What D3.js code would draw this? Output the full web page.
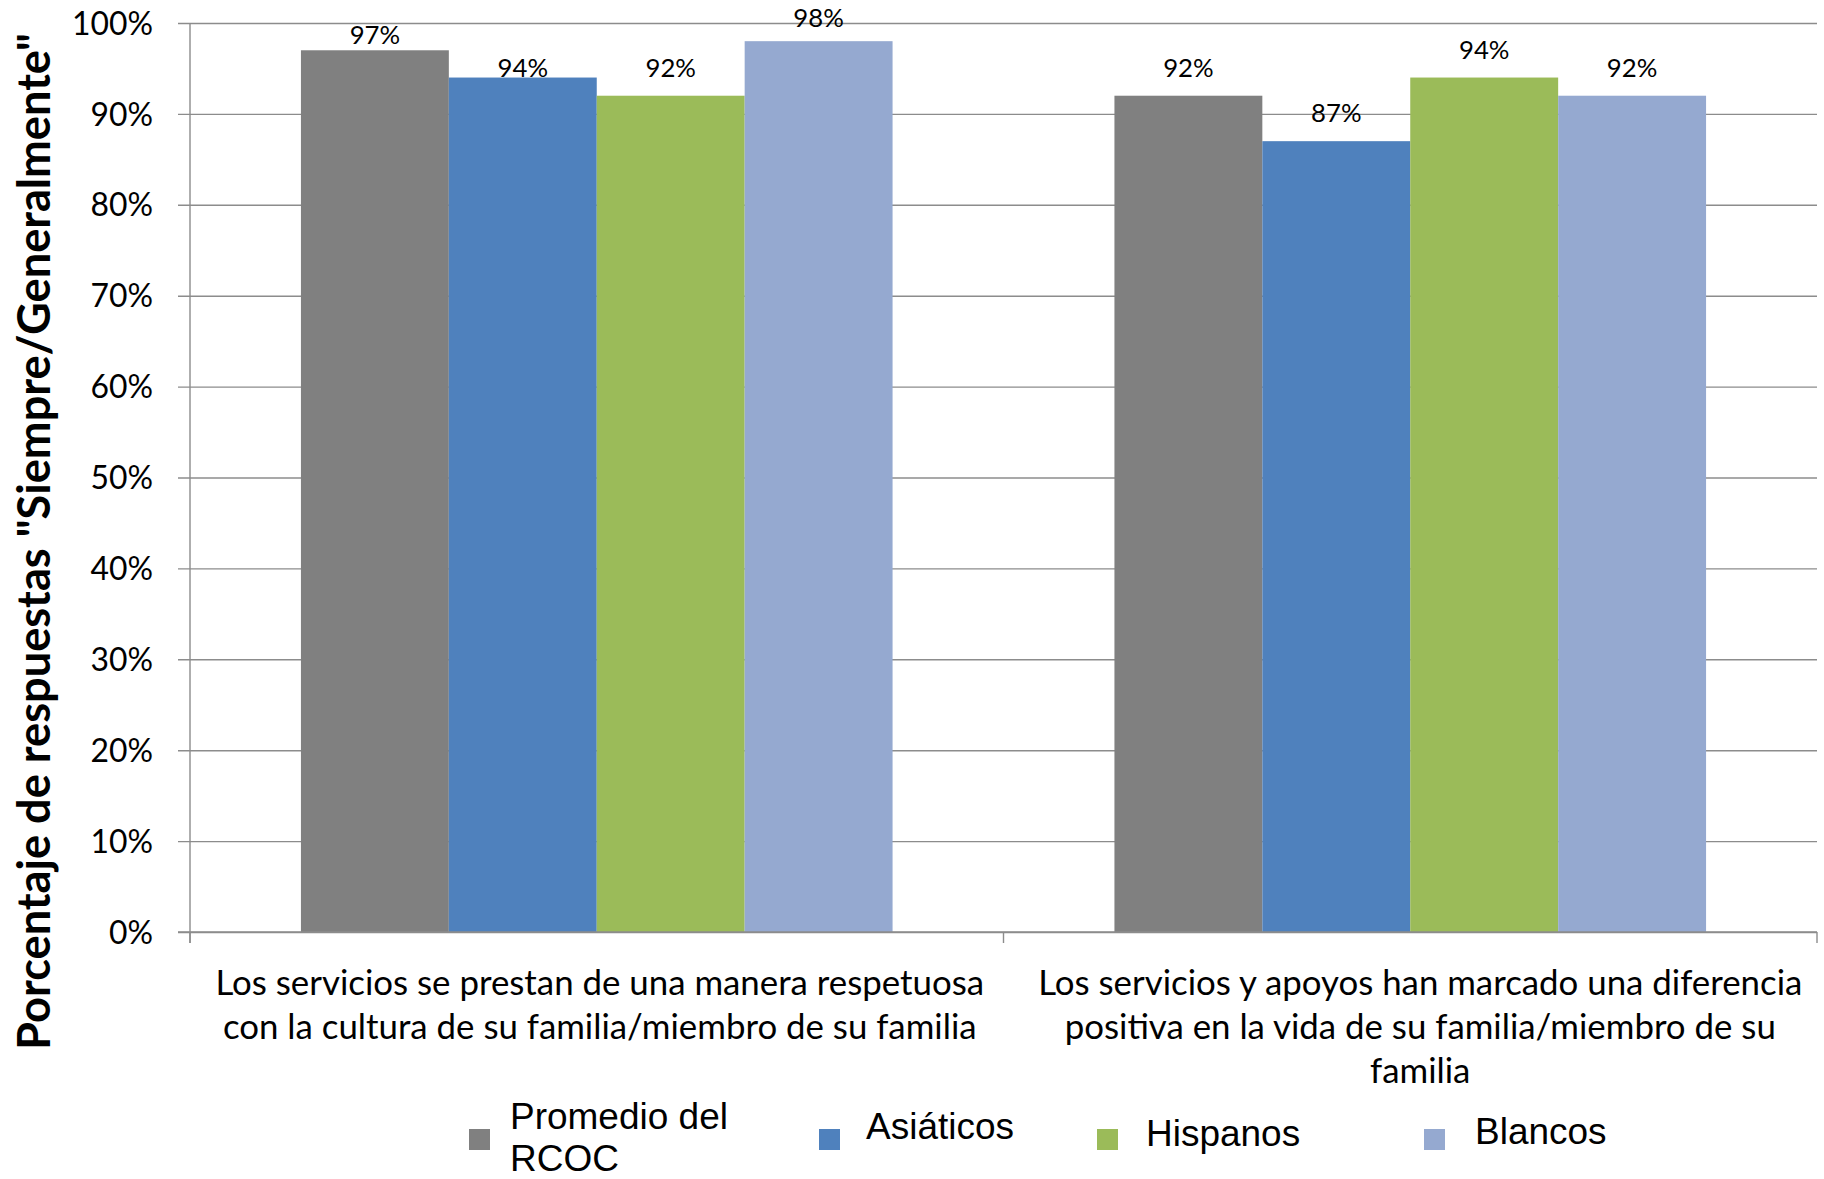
<!DOCTYPE html>
<html>
<head>
<meta charset="utf-8">
<script src="https://cdn.jsdelivr.net/npm/d3@7"></script>
<style>
  html, body { margin: 0; padding: 0; background: #fff; }
  svg { display: block; }
</style>
</head>
<body>
<svg id="chart" width="1824" height="1179"></svg>
<script>
// ---------- data ----------
const categories = ["cat1", "cat2"];
const categoryLabelLines = [
  ["Los servicios se prestan de una manera respetuosa",
   "con la cultura de su familia/miembro de su familia"],
  ["Los servicios y apoyos han marcado una diferencia",
   "positiva en la vida de su familia/miembro de su",
   "familia"]
];
const seriesNames = ["Promedio del RCOC", "Asiáticos", "Hispanos", "Blancos"];
const legendLabelLines = [["Promedio del", "RCOC"], ["Asiáticos"], ["Hispanos"], ["Blancos"]];
const seriesColors = ["#808080", "#4F81BD", "#9BBB59", "#95A9D0"];
// values per series, in category order
const promedioValues = [0.97, 0.92];
const asiaticosValues = [0.94, 0.87];
const hispanosValues = [0.92, 0.94];
const blancosValues = [0.98, 0.92];
const yTickValues = [0, 0.1, 0.2, 0.3, 0.4, 0.5, 0.6, 0.7, 0.8, 0.9, 1.0];
const yAxisTitle = "Porcentaje de respuestas \"Siempre/Generalmente\"";

const seriesValues = [promedioValues, asiaticosValues, hispanosValues, blancosValues];

// ---------- layout ----------
const plot = { left: 190, right: 1817, top: 23, bottom: 932 };
const gridColor = "#8C8C8C";
const FONT = "Lato, 'Open Sans', sans-serif";
const LEGEND_FONT = "'Liberation Sans', Arial, sans-serif";

const svg = d3.select("#chart");

function fitSize(str, target, weight, family) {
  const t = svg.append("text").attr("font-family", family).attr("font-weight", weight)
    .attr("font-size", 100).text(str);
  const len = t.node().getComputedTextLength();
  t.remove();
  return 100 * target / len;
}
const catFont = fitSize(categoryLabelLines[0][0], 769, "normal", FONT);
const tickFont = fitSize("100%", 81, "normal", FONT);
const valueFont = catFont * 26.6 / 36;
const titleFont = fitSize(yAxisTitle, 1017, "bold", FONT);
const legendFont = fitSize("Promedio del", 218, "normal", LEGEND_FONT);

const x = d3.scaleBand().domain(categories).range([plot.left, plot.right]).padding(0);
const step = x.bandwidth();
const barW = step / (seriesNames.length + 1.5);
const xs = d3.scaleBand().domain(d3.range(seriesNames.length))
  .range([0.75 * barW, 0.75 * barW + barW * seriesNames.length]).padding(0);
const y = d3.scaleLinear().domain([0, 1]).range([plot.bottom, plot.top]);

// gridlines (with left tick marks)
const yAxis = d3.axisLeft(y).tickValues(yTickValues).tickFormat(d3.format(".0%"))
  .tickSize(-(plot.right - plot.left)).tickPadding(0);
const gy = svg.append("g").attr("transform", `translate(${plot.left},0)`).call(yAxis);
gy.select(".domain").remove();
gy.selectAll(".tick line").attr("x1", -12).attr("stroke", gridColor).attr("stroke-width", 1.4);
gy.selectAll(".tick text").attr("x", 153 - plot.left).attr("dy", "0.35em")
  .attr("font-family", FONT).attr("font-size", tickFont).attr("fill", "#000").attr("text-anchor", "end");

// bars
const barData = [];
seriesValues.forEach((vals, s) => vals.forEach((v, c) => barData.push({ s, c, v })));
svg.append("g").selectAll("rect").data(barData).join("rect")
  .attr("x", d => x(categories[d.c]) + xs(d.s))
  .attr("y", d => y(d.v))
  .attr("width", xs.bandwidth())
  .attr("height", d => y(0) - y(d.v))
  .attr("fill", d => seriesColors[d.s]);

// y axis line
svg.append("line").attr("x1", plot.left).attr("x2", plot.left)
  .attr("y1", plot.top).attr("y2", plot.bottom + 11)
  .attr("stroke", gridColor).attr("stroke-width", 1.4);
// x axis line and ticks
svg.append("line").attr("x1", plot.left - 12).attr("x2", plot.right)
  .attr("y1", plot.bottom).attr("y2", plot.bottom)
  .attr("stroke", gridColor).attr("stroke-width", 1.4);
const xTickPos = categories.map(c => x(c)).concat([plot.right]);
svg.append("g").selectAll("line").data(xTickPos).join("line")
  .attr("x1", d => d).attr("x2", d => d)
  .attr("y1", plot.bottom).attr("y2", plot.bottom + 11)
  .attr("stroke", gridColor).attr("stroke-width", 1.4);

// value labels (Excel nudged two labels in the first group)
const labelLift = (d) => (d.c === 0 && d.s === 0) ? 15 : (d.c === 0 && d.s === 1) ? 10 : 28;
svg.append("g").selectAll("text").data(barData).join("text")
  .attr("x", d => x(categories[d.c]) + xs(d.s) + xs.bandwidth() / 2)
  .attr("y", d => Math.max(y(d.v) - labelLift(d), 18))
  .attr("dy", "0.35em")
  .attr("text-anchor", "middle")
  .attr("font-family", FONT).attr("font-size", valueFont).attr("fill", "#000")
  .text(d => d3.format(".0%")(d.v));

// category labels
const catShift = [3, 10];
categories.forEach((c, i) => {
  const t = svg.append("text")
    .attr("text-anchor", "middle")
    .attr("font-family", FONT).attr("font-size", catFont).attr("fill", "#000");
  categoryLabelLines[i].forEach((line, j) => {
    t.append("tspan").attr("x", x(c) + step / 2 + catShift[i]).attr("y", 995 + j * 44).text(line);
  });
});

// y axis title
svg.append("text")
  .attr("transform", `translate(50,${(33 + 1050) / 2}) rotate(-90)`)
  .attr("text-anchor", "middle")
  .attr("font-family", FONT).attr("font-weight", "bold").attr("font-size", titleFont).attr("fill", "#000")
  .text(yAxisTitle);

// legend
const legendPos = [
  { sx: 469, sy: 1129, tx: 510, ty: 1129 },
  { sx: 819, sy: 1129, tx: 866, ty: 1139 },
  { sx: 1097, sy: 1129, tx: 1146, ty: 1146 },
  { sx: 1424, sy: 1129, tx: 1475, ty: 1144 }
];
const lg = svg.append("g");
seriesNames.forEach((name, i) => {
  const p = legendPos[i];
  lg.append("rect").attr("x", p.sx).attr("y", p.sy).attr("width", 21).attr("height", 21)
    .attr("fill", seriesColors[i]);
  legendLabelLines[i].forEach((line, j) => {
    lg.append("text").attr("font-family", LEGEND_FONT).attr("font-size", legendFont).attr("fill", "#000")
      .attr("x", p.tx).attr("y", p.ty + j * 42).text(line);
  });
});
</script>
</body>
</html>
